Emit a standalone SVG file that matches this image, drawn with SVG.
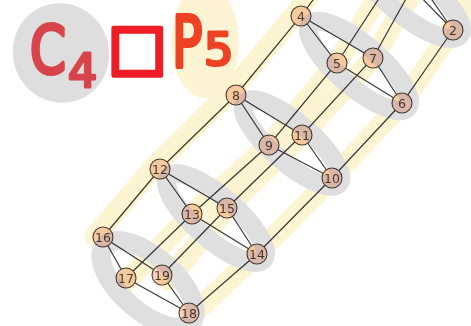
<svg xmlns="http://www.w3.org/2000/svg" width="471" height="326" viewBox="0 0 471 326">
  <style>
    .edge { stroke: #3a3a3a; stroke-width: 1.2; fill: none; }
    .node circle { fill: #f9d2c0; stroke: #4a4038; stroke-width: 1.1; }
    .node text { font-family: "DejaVu Sans", sans-serif; font-size: 12.5px; fill: #4d3d30; text-anchor: middle; dominant-baseline: central; }
    .band { fill: none; stroke: #fdf4d2; stroke-width: 21; stroke-linecap: round; stroke-linejoin: round; }
    .ring { fill: none; stroke: #dfdfdf; stroke-width: 19; }
    .marks { mix-blend-mode: multiply; }
    .title { font-family: "DejaVu Sans", sans-serif; stroke-linejoin: round; stroke-linecap: round; }
  </style>

  <rect x="0" y="0" width="471" height="326" fill="#ffffff"/>

  <!-- graph edges: C4 rings and P5 paths -->
  <g id="connectors">
    <!-- layer 0..3 (mostly above the top edge) -->
    <line class="edge" x1="352" y1="-52" x2="404" y2="-40"/>
    <line class="edge" x1="352" y1="-52" x2="412" y2="-12"/>
    <line class="edge" x1="404" y1="-40" x2="453" y2="30"/>
    <line class="edge" x1="412" y1="-12" x2="453" y2="30"/>
    <!-- layer 4..7 -->
    <line class="edge" x1="301" y1="16" x2="337" y2="63"/>
    <line class="edge" x1="301" y1="16" x2="373" y2="58"/>
    <line class="edge" x1="337" y1="63" x2="402" y2="103"/>
    <line class="edge" x1="373" y1="58" x2="402" y2="103"/>
    <!-- layer 8..11 -->
    <line class="edge" x1="236" y1="95" x2="269" y2="145"/>
    <line class="edge" x1="236" y1="95" x2="302" y2="135"/>
    <line class="edge" x1="269" y1="145" x2="332" y2="178"/>
    <line class="edge" x1="302" y1="135" x2="332" y2="178"/>
    <!-- layer 12..15 -->
    <line class="edge" x1="160" y1="169" x2="192" y2="214"/>
    <line class="edge" x1="160" y1="169" x2="227" y2="208"/>
    <line class="edge" x1="192" y1="214" x2="257" y2="254"/>
    <line class="edge" x1="227" y1="208" x2="257" y2="254"/>
    <!-- layer 16..19 -->
    <line class="edge" x1="103" y1="237" x2="126" y2="278"/>
    <line class="edge" x1="103" y1="237" x2="162" y2="275"/>
    <line class="edge" x1="126" y1="278" x2="189" y2="313"/>
    <line class="edge" x1="162" y1="275" x2="189" y2="313"/>
    <!-- path edges between layers -->
    <polyline class="edge" points="103,237 160,169 236,95 301,16 352,-52"/>
    <polyline class="edge" points="126,278 192,214 269,145 337,63 404,-40"/>
    <polyline class="edge" points="189,313 257,254 332,178 402,103 453,30"/>
    <polyline class="edge" points="162,275 227,208 302,135 373,58 412,-12"/>
  </g>

  <g id="n2" class="node"><circle cx="453" cy="30" r="10"/><text x="453" y="30">2</text></g>
  <g id="n4" class="node"><circle cx="301" cy="16" r="10"/><text x="301" y="16">4</text></g>
  <g id="n5" class="node"><circle cx="337" cy="63" r="10"/><text x="337" y="63">5</text></g>
  <g id="n6" class="node"><circle cx="402" cy="103" r="10"/><text x="402" y="103">6</text></g>
  <g id="n7" class="node"><circle cx="373" cy="58" r="10"/><text x="373" y="58">7</text></g>
  <g id="n8" class="node"><circle cx="236" cy="95" r="10"/><text x="236" y="95">8</text></g>
  <g id="n9" class="node"><circle cx="269" cy="145" r="10"/><text x="269" y="145">9</text></g>
  <g id="n10" class="node"><circle cx="332" cy="178" r="10"/><text x="332" y="178">10</text></g>
  <g id="n11" class="node"><circle cx="302" cy="135" r="10"/><text x="302" y="135">11</text></g>
  <g id="n12" class="node"><circle cx="160" cy="169" r="10"/><text x="160" y="169">12</text></g>
  <g id="n13" class="node"><circle cx="192" cy="214" r="10"/><text x="192" y="214">13</text></g>
  <g id="n14" class="node"><circle cx="257" cy="254" r="10"/><text x="257" y="254">14</text></g>
  <g id="n15" class="node"><circle cx="227" cy="208" r="10"/><text x="227" y="208">15</text></g>
  <g id="n16" class="node"><circle cx="103" cy="237" r="10"/><text x="103" y="237">16</text></g>
  <g id="n17" class="node"><circle cx="126" cy="278" r="10"/><text x="126" y="278">17</text></g>
  <g id="n18" class="node"><circle cx="189" cy="313" r="10"/><text x="189" y="313">18</text></g>
  <g id="n19" class="node"><circle cx="162" cy="275" r="10"/><text x="162" y="275">19</text></g>

  <!-- highlighter strokes laid over the drawing -->
  <g id="highlights" class="marks">
    <!-- yellow: the five-vertex paths -->
    <polyline class="band" points="95,236 155,166 231,91 297,12 350,-60"/>
    <polyline class="band" points="122,286 192,214 269,145 337,63 395,-30"/>
    <polyline class="band" points="193,314 257,254 332,178 402,103 456,25 480,-10"/>
    <polyline class="band" points="168,280 227,208 302,135 373,58 420,-20"/>
    <!-- grey: the four-cycles -->
    <ellipse class="ring" cx="410" cy="-5" rx="64" ry="21" transform="rotate(39.1 410 -5)"/>
    <ellipse class="ring" cx="359" cy="66" rx="64" ry="21" transform="rotate(40.7 359 66)"/>
    <ellipse class="ring" cx="292" cy="143" rx="62" ry="20" transform="rotate(40.8 292 143)"/>
    <ellipse class="ring" cx="216" cy="218" rx="63" ry="21" transform="rotate(41.2 216 218)"/>
    <ellipse class="ring" cx="148" cy="284" rx="58" ry="27" transform="rotate(41.5 148 284)"/>
    <!-- blobs behind the heading -->
    <ellipse cx="61" cy="53" rx="48" ry="50" transform="rotate(-20 61 53)" fill="#dedede"/>
    <ellipse cx="205" cy="42" rx="34" ry="56" fill="#fef4d4"/>
  </g>

  <!-- heading: C4 box P5 -->
  <g id="heading">
    <text class="title" x="0" y="0" transform="translate(30,73) scale(0.78,1)" font-size="66" fill="#d8444c" stroke="#d8444c" stroke-width="4">C</text>
    <text class="title" x="68" y="87" font-size="46" fill="#d8444c" stroke="#d8444c" stroke-width="3">4</text>
    <text class="title" x="108" y="67.5" font-size="62" fill="#ee1c24" stroke="#ee1c24" stroke-width="4.5">□</text>
    <text class="title" x="0" y="0" transform="translate(172,67) scale(0.7,1)" font-size="72" fill="#ee4224" stroke="#ee4224" stroke-width="4">P</text>
    <text class="title" x="0" y="0" transform="translate(204,65) scale(1.05,1)" font-size="44" fill="#ee4224" stroke="#ee4224" stroke-width="3">5</text>
  </g>
</svg>
